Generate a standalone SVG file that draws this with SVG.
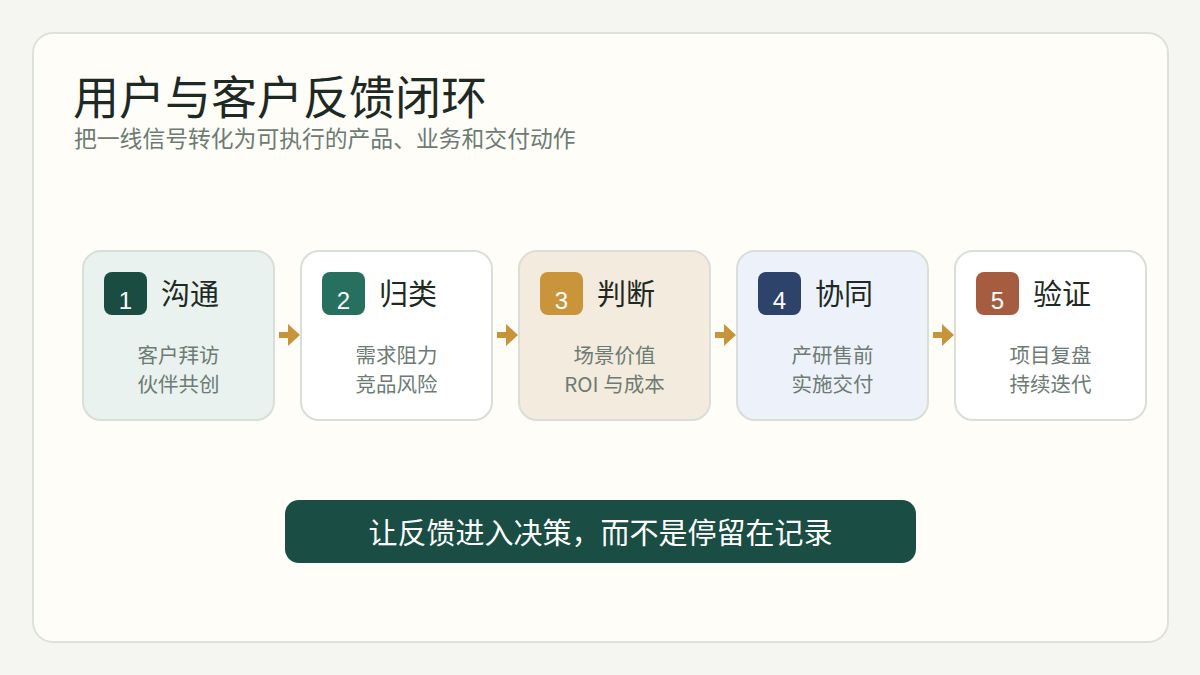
<svg xmlns="http://www.w3.org/2000/svg" width="1200" height="675" viewBox="0 0 1200 675">
<style>
text{font-family:"Noto Sans CJK SC","Liberation Sans",sans-serif}
.node{stroke:#d9ded9;stroke-width:2}
.badge-t{fill:#ffffff;font-size:24px;text-anchor:middle;font-family:"Liberation Sans","Noto Sans CJK SC",sans-serif}
.head{fill:#1f2924;font-size:29px}
.sub{fill:#6d7b74;font-size:20.5px;text-anchor:middle}
.arrow{fill:#c8943a}
</style>
<rect width="1200" height="675" fill="#f5f5f1"/>
<rect x="33" y="33" width="1135" height="609" rx="20" fill="#fefdf8" stroke="#dde1dc" stroke-width="2"/>
<text x="73" y="114" font-size="46" fill="#1f2924">用户与客户反馈闭环</text>
<text x="74" y="147" font-size="22.8" fill="#6d7b74">把一线信号转化为可执行的产品、业务和交付动作</text>

<g id="connectors">
<path class="arrow" d="M279 332h9v-8l12 11-12 11v-8h-9z"/>
<path class="arrow" d="M497 332h9v-8l12 11-12 11v-8h-9z"/>
<path class="arrow" d="M715 332h9v-8l12 11-12 11v-8h-9z"/>
<path class="arrow" d="M933 332h9v-8l12 11-12 11v-8h-9z"/>
</g>

<g id="node1">
<rect class="node" x="83" y="251" width="191" height="169" rx="18" fill="#e9f2ee"/>
<rect x="104" y="272" width="43" height="43" rx="8" fill="#1a4c42"/>
<text class="badge-t" x="125.5" y="309">1</text>
<text class="head" x="161" y="305">沟通</text>
<text class="sub" x="178.5" y="363">客户拜访</text>
<text class="sub" x="178.5" y="392">伙伴共创</text>
</g>
<g id="node2">
<rect class="node" x="301" y="251" width="191" height="169" rx="18" fill="#ffffff"/>
<rect x="322" y="272" width="43" height="43" rx="8" fill="#27705f"/>
<text class="badge-t" x="343.5" y="309">2</text>
<text class="head" x="379" y="305">归类</text>
<text class="sub" x="396.5" y="363">需求阻力</text>
<text class="sub" x="396.5" y="392">竞品风险</text>
</g>
<g id="node3">
<rect class="node" x="519" y="251" width="191" height="169" rx="18" fill="#f3ebdd"/>
<rect x="540" y="272" width="43" height="43" rx="8" fill="#c9943a"/>
<text class="badge-t" x="561.5" y="309">3</text>
<text class="head" x="597" y="305">判断</text>
<text class="sub" x="614.5" y="363">场景价值</text>
<text class="sub" x="614.5" y="392">ROI 与成本</text>
</g>
<g id="node4">
<rect class="node" x="737" y="251" width="191" height="169" rx="18" fill="#edf2fa"/>
<rect x="758" y="272" width="43" height="43" rx="8" fill="#2e4369"/>
<text class="badge-t" x="779.5" y="309">4</text>
<text class="head" x="815" y="305">协同</text>
<text class="sub" x="832.5" y="363">产研售前</text>
<text class="sub" x="832.5" y="392">实施交付</text>
</g>
<g id="node5">
<rect class="node" x="955" y="251" width="191" height="169" rx="18" fill="#ffffff"/>
<rect x="976" y="272" width="43" height="43" rx="8" fill="#a65c3e"/>
<text class="badge-t" x="997.5" y="309">5</text>
<text class="head" x="1033" y="305">验证</text>
<text class="sub" x="1050.5" y="363">项目复盘</text>
<text class="sub" x="1050.5" y="392">持续迭代</text>
</g>

<g id="banner">
<rect x="285" y="500" width="631" height="63" rx="14" fill="#1a4d44"/>
<text x="600.5" y="544" font-size="29" fill="#ffffff" text-anchor="middle">让反馈进入决策，而不是停留在记录</text>
</g>
</svg>
